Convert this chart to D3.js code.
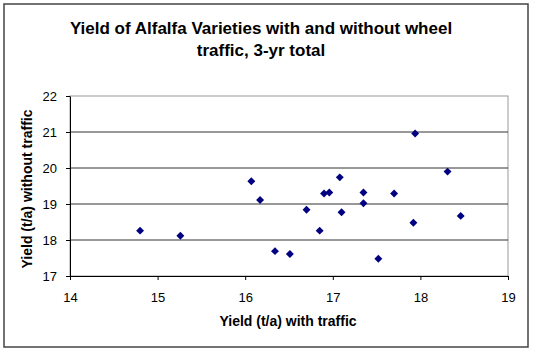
<!DOCTYPE html>
<html>
<head>
<meta charset="utf-8">
<script src="https://cdn.jsdelivr.net/npm/d3@7"></script>
<style>
  html, body { margin: 0; padding: 0; background: #fff; }
  text { font-family: "Liberation Sans", Arial, sans-serif; fill: #000; }
</style>
</head>
<body>
<div id="chart"></div>
<script>
// Yield with wheel traffic (x) vs without traffic (y), t/a, 3-yr total
const withTraffic    = [14.80, 15.26, 16.07, 16.17, 16.34, 16.51, 16.70, 16.85, 16.90, 16.96,
                        17.08, 17.10, 17.35, 17.35, 17.52, 17.70, 17.92, 17.94, 18.31, 18.46];
const withoutTraffic = [18.26, 18.12, 19.63, 19.11, 17.69, 17.61, 18.84, 18.26, 19.29, 19.32,
                        19.74, 18.77, 19.32, 19.02, 17.48, 19.29, 18.48, 20.96, 19.90, 18.67];
const xTicks = [14, 15, 16, 17, 18, 19];
const yTicks = [17, 18, 19, 20, 21, 22];
const titleLines = ["Yield of Alfalfa Varieties with and without wheel", "traffic, 3-yr total"];

const W = 534, H = 354;
const PLOT = { left: 70, right: 508, top: 96, bottom: 276 };

const svg = d3.select("#chart").append("svg").attr("width", W).attr("height", H);

// outer chart frame
svg.append("rect").attr("x", 4).attr("y", 4).attr("width", 524).attr("height", 343)
  .attr("fill", "#fff").attr("stroke", "#444").attr("stroke-width", 1.5);

const x = d3.scaleLinear().domain([14, 19]).range([PLOT.left, PLOT.right]);
const y = d3.scaleLinear().domain([17, 22]).range([PLOT.bottom, PLOT.top]);

// plot area border (light)
svg.append("rect").attr("x", PLOT.left).attr("y", PLOT.top)
  .attr("width", PLOT.right - PLOT.left).attr("height", PLOT.bottom - PLOT.top)
  .attr("fill", "none").attr("stroke", "#999").attr("stroke-width", 1);

// gridlines
svg.append("g").selectAll("line").data(yTicks.slice(1, -1)).join("line")
  .attr("x1", PLOT.left).attr("x2", PLOT.right)
  .attr("y1", d => y(d)).attr("y2", d => y(d))
  .attr("stroke", "#333").attr("stroke-width", 1);

// axes
const xAxis = svg.append("g").attr("transform", `translate(0,${PLOT.bottom})`)
  .call(d3.axisBottom(x).tickValues(xTicks).tickSize(4).tickSizeOuter(0).tickFormat(d3.format("d")));
const yAxis = svg.append("g").attr("transform", `translate(${PLOT.left},0)`)
  .call(d3.axisLeft(y).tickValues(yTicks).tickSize(4).tickSizeOuter(0).tickFormat(d3.format("d")));
[xAxis, yAxis].forEach(a => {
  a.select(".domain").attr("stroke", "#000");
  a.selectAll(".tick line").attr("stroke", "#000");
  a.selectAll(".tick text").attr("font-size", 13).attr("font-family", "Liberation Sans, Arial, sans-serif");
});
xAxis.selectAll(".tick text").attr("y", 0).attr("dy", 26);
yAxis.selectAll(".tick text").attr("x", -13);

// points (diamonds)
svg.append("g").selectAll("path").data(withTraffic).join("path")
  .attr("transform", (d, i) => `translate(${x(d)},${y(withoutTraffic[i])})`)
  .attr("d", d3.symbol(d3.symbolDiamond2, 40))
  .attr("fill", "#000080");

// title
svg.append("text").attr("x", 261).attr("y", 34).attr("text-anchor", "middle")
  .attr("font-size", 17).attr("font-weight", "bold").text(titleLines[0]);
svg.append("text").attr("x", 261).attr("y", 56).attr("text-anchor", "middle")
  .attr("font-size", 17).attr("font-weight", "bold").text(titleLines[1]);

// axis titles
svg.append("text").attr("x", 288).attr("y", 326).attr("text-anchor", "middle")
  .attr("font-size", 14).attr("font-weight", "bold").text("Yield (t/a) with traffic");
svg.append("text").attr("transform", `translate(32,189) rotate(-90)`)
  .attr("text-anchor", "middle")
  .attr("font-size", 14).attr("font-weight", "bold").text("Yield (t/a) without traffic");
</script>
</body>
</html>
